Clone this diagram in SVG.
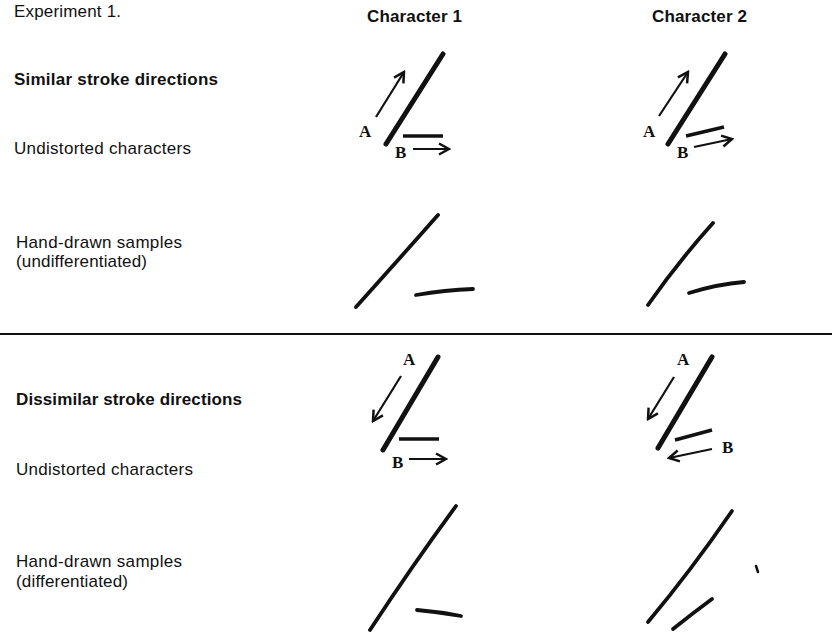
<svg xmlns="http://www.w3.org/2000/svg" width="832" height="639" viewBox="0 0 832 639">
<style>
.lbl{font-family:"Liberation Sans",Arial,sans-serif;font-size:17px;fill:#111}
.hd{font-family:"Liberation Sans",Arial,sans-serif;font-size:17px;font-weight:bold;fill:#111}
.ab{font-family:"Liberation Serif","Times New Roman",serif;font-size:17px;font-weight:bold;fill:#111}
.stk{stroke:#111;stroke-width:5;stroke-linecap:round;fill:none}
.bar{stroke:#111;stroke-width:3.5;stroke-linecap:butt;fill:none}
.arr{stroke:#111;stroke-width:2.2;fill:none;marker-end:url(#ah)}
.hand{stroke:#111;stroke-width:3.8;stroke-linecap:round;stroke-linejoin:round;fill:none}
</style>
<defs>
<marker id="ah" markerUnits="userSpaceOnUse" markerWidth="14" markerHeight="14" refX="12" refY="7" orient="auto" viewBox="0 0 14 14">
<path d="M2,1.5 L12,7 L2,12.5" fill="none" stroke="#111" stroke-width="2.5"/>
</marker>
</defs>
<rect width="832" height="639" fill="#fff"/>
<g id="labels">
<text class="lbl" x="14" y="17" textLength="107" lengthAdjust="spacing">Experiment 1.</text>
<text class="hd" x="367" y="22" textLength="95" lengthAdjust="spacing">Character 1</text>
<text class="hd" x="652" y="22" textLength="95" lengthAdjust="spacing">Character 2</text>
<text class="hd" x="14" y="85" textLength="204" lengthAdjust="spacing">Similar stroke directions</text>
<text class="lbl" x="14" y="154" textLength="177" lengthAdjust="spacing">Undistorted characters</text>
<text class="lbl" x="16" y="248" textLength="166" lengthAdjust="spacing">Hand-drawn samples</text>
<text class="lbl" x="16" y="267" textLength="131" lengthAdjust="spacing">(undifferentiated)</text>
<text class="hd" x="16" y="405" textLength="226" lengthAdjust="spacing">Dissimilar stroke directions</text>
<text class="lbl" x="16" y="475" textLength="177" lengthAdjust="spacing">Undistorted characters</text>
<text class="lbl" x="16" y="567" textLength="166" lengthAdjust="spacing">Hand-drawn samples</text>
<text class="lbl" x="16" y="587" textLength="112" lengthAdjust="spacing">(differentiated)</text>
</g>
<line id="divider" x1="0" y1="334" x2="832" y2="334" stroke="#111" stroke-width="2"/>
<g id="c1-similar">
<line class="stk" x1="443" y1="54" x2="386" y2="144"/>
<line class="bar" x1="403" y1="136" x2="443" y2="136"/>
<text class="ab" x="359" y="137">A</text>
<text class="ab" x="395" y="158">B</text>
</g>
<g id="c2-similar">
<line class="stk" x1="725" y1="54" x2="668" y2="144"/>
<line class="bar" x1="686" y1="136" x2="724" y2="127"/>
<text class="ab" x="643" y="137">A</text>
<text class="ab" x="677" y="158">B</text>
</g>
<g id="c1-similar-hand">
<path class="hand" d="M438,215 Q400,258 356,307"/>
<path class="hand" d="M416,295 Q445,290 473,289"/>
</g>
<g id="c2-similar-hand">
<path class="hand" d="M713,223 Q678,262 648,305"/>
<path class="hand" d="M689,293 Q718,284 744,282"/>
</g>
<g id="c1-dissimilar">
<line class="stk" x1="438" y1="357" x2="383" y2="450"/>
<line class="bar" x1="399" y1="439" x2="439" y2="439"/>
<text class="ab" x="403" y="365">A</text>
<text class="ab" x="392" y="468">B</text>
</g>
<g id="c2-dissimilar">
<line class="stk" x1="712" y1="357" x2="658" y2="448"/>
<line class="bar" x1="675" y1="440" x2="712" y2="430"/>
<text class="ab" x="677" y="365">A</text>
<text class="ab" x="722" y="453">B</text>
</g>
<g id="c1-dissimilar-hand">
<path class="hand" d="M456,506 Q412,566 370,630"/>
<path class="hand" d="M417,610 Q440,612 461,616"/>
</g>
<g id="c2-dissimilar-hand">
<path class="hand" d="M732,511 Q690,572 648,622"/>
<path class="hand" d="M673,629 Q693,613 712,599"/>
<path d="M756,566 L758,572" stroke="#111" stroke-width="2.5" stroke-linecap="round"/>
</g>
<g id="connectors">
<line class="arr" x1="376" y1="117" x2="404" y2="72"/>
<line class="arr" x1="413" y1="149" x2="449" y2="149"/>
<line class="arr" x1="659" y1="116" x2="688" y2="72"/>
<line class="arr" x1="694" y1="147" x2="732" y2="139"/>
<line class="arr" x1="401" y1="376" x2="373" y2="421"/>
<line class="arr" x1="409" y1="459" x2="446" y2="459"/>
<line class="arr" x1="674" y1="377" x2="648" y2="419"/>
<line class="arr" x1="712" y1="449" x2="669" y2="458"/>
</g>
</svg>
